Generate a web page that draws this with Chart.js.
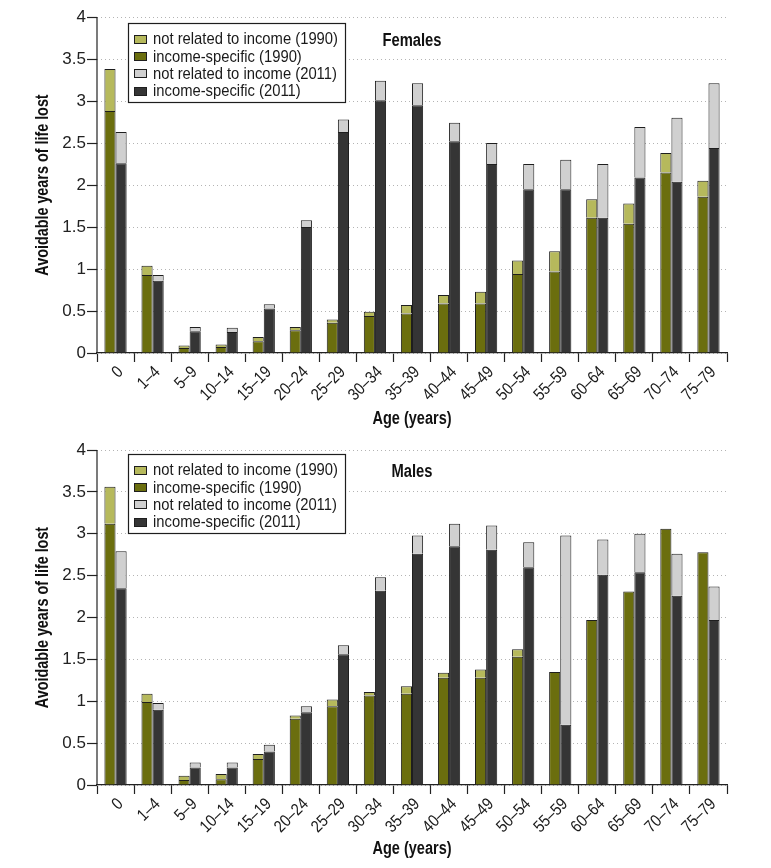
<!DOCTYPE html>
<html>
<head>
<meta charset="utf-8">
<script src="https://cdn.jsdelivr.net/npm/chart.js@4/dist/chart.umd.min.js"></script>
<style>
  html, body { margin: 0; padding: 0; background: #fff; }
  #wrap { position: relative; width: 771px; height: 868px; }
  .c { position: absolute; left: 0; }
</style>
</head>
<body>
<div id="wrap">
  <canvas id="top" class="c" style="top:0px" width="771" height="433"></canvas>
  <canvas id="bot" class="c" style="top:433px" width="771" height="435"></canvas>
</div>
<script>
// ---- data ----
const ageGroups = ['0', '1–4', '5–9', '10–14', '15–19', '20–24', '25–29', '30–34', '35–39', '40–44', '45–49', '50–54', '55–59', '60–64', '65–69', '70–74', '75–79'];
const yTicks = [0, 0.5, 1, 1.5, 2, 2.5, 3, 3.5, 4];
const seriesLabels = ['income-specific (1990)', 'not related to income (1990)', 'income-specific (2011)', 'not related to income (2011)'];
const xTitle = 'Age (years)';
const yTitle = 'Avoidable years of life lost';

const femaleIncome1990 = [2.88, 0.93, 0.06, 0.07, 0.14, 0.27, 0.36, 0.44, 0.47, 0.59, 0.59, 0.94, 0.97, 1.61, 1.54, 2.15, 1.86];
const femaleNotRelated1990 = [0.50, 0.11, 0.03, 0.03, 0.05, 0.04, 0.04, 0.05, 0.10, 0.10, 0.14, 0.16, 0.24, 0.22, 0.24, 0.23, 0.19];
const femaleIncome2011 = [2.26, 0.86, 0.26, 0.25, 0.53, 1.50, 2.63, 3.01, 2.95, 2.52, 2.25, 1.95, 1.95, 1.61, 2.09, 2.04, 2.44];
const femaleNotRelated2011 = [0.37, 0.07, 0.05, 0.05, 0.05, 0.08, 0.15, 0.23, 0.26, 0.22, 0.25, 0.30, 0.35, 0.64, 0.60, 0.76, 0.77];

const maleIncome1990 = [3.12, 0.99, 0.06, 0.07, 0.31, 0.79, 0.94, 1.07, 1.09, 1.28, 1.28, 1.53, 1.35, 1.97, 2.31, 3.06, 2.78];
const maleNotRelated1990 = [0.44, 0.10, 0.05, 0.06, 0.06, 0.04, 0.08, 0.04, 0.09, 0.06, 0.10, 0.09, 0, 0, 0, 0, 0];
const maleIncome2011 = [2.35, 0.90, 0.21, 0.21, 0.40, 0.87, 1.56, 2.32, 2.76, 2.85, 2.81, 2.60, 0.72, 2.51, 2.54, 2.26, 1.97];
const maleNotRelated2011 = [0.44, 0.08, 0.06, 0.06, 0.08, 0.07, 0.11, 0.16, 0.22, 0.27, 0.29, 0.30, 2.26, 0.42, 0.46, 0.50, 0.40];

// ---- styling ----
const FONT = "'Liberation Sans', Arial, sans-serif";
const COLORS = ['#6b6e0e', '#b6b95c', '#353535', '#d0d0d0'];
const EDGE = '#1e1e1e';
const TEXT = '#1a1a1a';

// draw condensed text (horizontal squeeze along the text direction)
function condText(ctx, text, x, y, opt) {
  ctx.save();
  ctx.translate(x, y);
  if (opt.rot) ctx.rotate(opt.rot);
  ctx.scale(opt.sx, 1);
  ctx.font = opt.font;
  ctx.fillStyle = opt.color || TEXT;
  ctx.textAlign = opt.align || 'left';
  ctx.textBaseline = opt.baseline || 'middle';
  ctx.fillText(text, 0, 0);
  ctx.restore();
}

const textLayer = {
  id: 'textLayer',
  afterDraw(chart, args, opts) {
    const { ctx, chartArea } = chart;
    const xs = chart.scales.x;
    const order = [1, 0, 3, 2];
    const SX = 0.85;
    ctx.save();
    // solid y axis line
    ctx.strokeStyle = '#222';
    ctx.lineWidth = 1.2;
    ctx.beginPath();
    ctx.moveTo(chartArea.left, chartArea.top);
    ctx.lineTo(chartArea.left, chartArea.bottom);
    ctx.stroke();
    // x tick labels (rotated 45°)
    ageGroups.forEach((lab, i) => {
      const px = xs.getPixelForTick(i);
      condText(ctx, lab, px + 5, chartArea.bottom + 16.5, { rot: -Math.PI / 4, sx: SX, font: '17px ' + FONT, align: 'right' });
    });
    // axis titles
    condText(ctx, xTitle, (chartArea.left + chartArea.right) / 2, opts.xTitleY, { sx: 0.83, font: 'bold 17.5px ' + FONT, align: 'center', color: '#111' });
    condText(ctx, yTitle, 43.5, (chartArea.top + chartArea.bottom) / 2, { rot: -Math.PI / 2, sx: 0.82, font: 'bold 17.5px ' + FONT, align: 'center', color: '#111' });

    // legend box
    const x0 = Math.round(chartArea.left + 31), y0 = Math.round(chartArea.top + opts.legDy);
    const rowH = 17.4;
    ctx.font = '17px ' + FONT;
    let maxW = 0;
    order.forEach(i => { maxW = Math.max(maxW, ctx.measureText(chart.data.datasets[i].label).width * 0.87); });
    const w = Math.round(25 + maxW + 7), h = 79;
    ctx.fillStyle = '#fff';
    ctx.fillRect(x0, y0, w, h);
    ctx.strokeStyle = EDGE;
    ctx.lineWidth = 1.2;
    ctx.strokeRect(x0 + 0.5, y0 + 0.5, w, h);
    ctx.lineWidth = 1;
    order.forEach((i, k) => {
      const ds = chart.data.datasets[i];
      const cy = y0 + 15.5 + k * rowH;
      const my = Math.round(cy - 4);
      ctx.fillStyle = ds.backgroundColor;
      ctx.fillRect(x0 + 6, my, 12, 8);
      ctx.strokeStyle = EDGE;
      ctx.strokeRect(x0 + 6.5, my + 0.5, 12, 8);
      condText(ctx, ds.label, x0 + 25, cy + 1, { sx: 0.87, font: '17px ' + FONT });
    });
    // panel title
    condText(ctx, opts.title, (chartArea.left + chartArea.right) / 2, chartArea.top + opts.titleDy, { sx: 0.82, font: 'bold 18px ' + FONT, align: 'center', color: '#111' });
    ctx.restore();
  }
};

function makeChart(id, d, title, geom) {
  const datasets = d.map((vals, i) => ({
    label: seriesLabels[i],
    data: vals,
    stack: i < 2 ? '1990' : '2011',
    backgroundColor: COLORS[i],
    borderColor: EDGE,
    borderWidth: 1,
    borderSkipped: 'start',
    categoryPercentage: 0.6,
    barPercentage: 1.0
  }));
  return new Chart(document.getElementById(id), {
    type: 'bar',
    data: { labels: ageGroups, datasets },
    plugins: [textLayer],
    options: {
      responsive: false,
      animation: false,
      devicePixelRatio: 1,
      layout: { padding: { top: geom.top, right: 44, left: 0, bottom: 0 } },
      plugins: {
        legend: { display: false },
        tooltip: { enabled: false },
        title: { display: false },
        textLayer: { title: title, titleDy: geom.titleDy, legDy: geom.legDy, xTitleY: geom.xTitleY }
      },
      scales: {
        x: {
          stacked: true,
          grid: { display: true, offset: true, drawOnChartArea: false, drawTicks: true, tickLength: 9, tickColor: '#222', tickWidth: 1.2 },
          border: { display: true, color: '#222', width: 1.2 },
          ticks: { display: false },
          title: { display: false },
          afterFit(scale) { scale.height = geom.xHeight; }
        },
        y: {
          stacked: true,
          min: 0, max: 4,
          afterBuildTicks(scale) { scale.ticks = yTicks.map(v => ({ value: v })); },
          grid: { color: '#b4b4b4', lineWidth: 1, tickColor: '#222', tickBorderDash: [], tickLength: 10, tickWidth: 1.2 },
          border: { display: false, color: '#222', width: 1.2, dash: [1, 3] },
          ticks: { color: '#222', padding: 1, font: { family: FONT, size: 17 }, callback: v => String(v) },
          title: { display: false },
          afterFit(scale) { scale.width = 97; }
        }
      }
    }
  });
}

makeChart('top', [femaleIncome1990, femaleNotRelated1990, femaleIncome2011, femaleNotRelated2011], 'Females',
  { top: 17, xHeight: 80, titleDy: 24, legDy: 6, xTitleY: 419 });
makeChart('bot', [maleIncome1990, maleNotRelated1990, maleIncome2011, maleNotRelated2011], 'Males',
  { top: 17, xHeight: 83, titleDy: 22, legDy: 4, xTitleY: 416 });
</script>
</body>
</html>
